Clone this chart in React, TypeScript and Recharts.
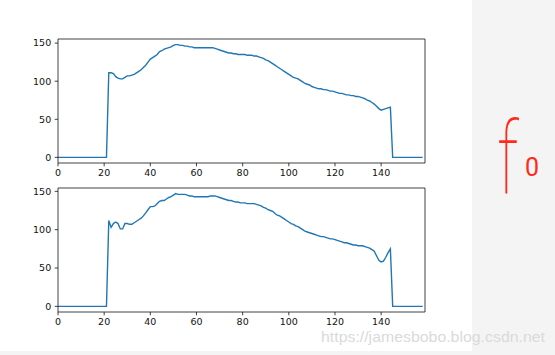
import { Line, LineChart, ReferenceLine, XAxis, YAxis } from "recharts";

// frame index 0..158
const frames = Array.from({ length: 159 }, (_, i) => i);

const pitchTop = [
  0, 0, 0, 0, 0, 0, 0, 0, 0, 0,
  0, 0, 0, 0, 0, 0, 0, 0, 0, 0,
  0, 0,
  111, 111, 110, 106, 104, 103, 103, 105, 107, 107,
  108, 109, 111, 113, 115, 118, 121, 125, 129, 131,
  133, 135, 139, 140, 142, 143, 144, 145, 147, 148,
  148, 147, 147, 146, 146, 145, 145, 144, 144, 144,
  144, 144, 144, 144, 144, 144, 143, 142, 141, 140,
  139, 138, 137, 137, 136, 136, 135, 135, 135, 135,
  134, 134, 134, 133, 133, 132, 131, 130, 128, 127,
  125, 123, 121, 119, 117, 115, 113, 111, 109, 107,
  105, 104, 103, 101, 99, 97, 96, 95, 93, 92,
  91, 90, 90, 89, 89, 88, 87, 87, 86, 85,
  84, 84, 83, 82, 82, 81, 81, 80, 80, 79,
  78, 77, 75, 74, 72, 70, 67, 64, 62, 63,
  64, 65, 66,
  0, 0, 0, 0, 0, 0, 0, 0, 0, 0,
  0, 0, 0, 0,
];

const pitchBottom = [
  0, 0, 0, 0, 0, 0, 0, 0, 0, 0,
  0, 0, 0, 0, 0, 0, 0, 0, 0, 0,
  0, 0,
  112, 103, 108, 110, 108, 101, 101, 108, 108, 107,
  107, 109, 111, 113, 115, 118, 122, 126, 130, 130,
  131, 134, 137, 138, 138, 140, 142, 143, 145, 147,
  146, 146, 146, 146, 145, 144, 144, 143, 143, 143,
  143, 143, 143, 143, 144, 144, 144, 143, 142, 141,
  140, 139, 138, 138, 137, 136, 136, 135, 135, 135,
  134, 134, 134, 134, 133, 132, 131, 129, 128, 126,
  125, 124, 121, 119, 118, 116, 114, 112, 110, 108,
  107, 105, 104, 102, 100, 98, 97, 96, 95, 94,
  93, 92, 91, 91, 90, 89, 88, 88, 87, 86,
  85, 84, 83, 83, 82, 81, 80, 80, 79, 79,
  79, 78, 77, 76, 74, 72, 66, 60, 58, 59,
  64, 70, 75,
  0, 0, 0, 0, 0, 0, 0, 0, 0, 0,
  0, 0, 0, 0,
];

const xTicks = [0, 20, 40, 60, 80, 100, 120, 140];
const yTicks = [0, 50, 100, 150];
const X_MAX = 159;

const tickStyle = { fill: "#111", fontSize: 9.5, fontFamily: "DejaVu Sans" };
const axisLine = { stroke: "#111", strokeWidth: 0.8 };

function PitchPlot({ values, top }: { values: number[]; top: number }) {
  const data = frames.map((x, i) => ({ x, y: values[i] }));
  const hi = Math.max(...values);
  const lo = Math.min(...values);
  const pad = (hi - lo) * 0.05;
  const yDomain = [lo - pad, hi + pad];

  return (
    <div style={{ position: "absolute", left: 0, top }}>
      <LineChart
        width={472}
        height={191}
        data={data}
        margin={{ top: 39, right: 47, bottom: 0, left: 0 }}
      >
        <XAxis
          dataKey="x"
          type="number"
          domain={[0, X_MAX]}
          ticks={xTicks}
          allowDataOverflow
          height={28}
          tick={tickStyle}
          tickSize={3.3}
          tickMargin={3}
          tickLine={{ stroke: "#111", strokeWidth: 0.8 }}
          axisLine={axisLine}
        />
        <YAxis
          type="number"
          domain={yDomain}
          ticks={yTicks}
          allowDataOverflow
          width={58}
          tick={tickStyle}
          tickSize={3.3}
          tickMargin={3.5}
          tickLine={{ stroke: "#111", strokeWidth: 0.8 }}
          axisLine={axisLine}
        />
        <ReferenceLine y={yDomain[1]} stroke="#111" strokeWidth={0.8} />
        <ReferenceLine x={X_MAX} stroke="#111" strokeWidth={0.8} />
        <Line
          type="linear"
          dataKey="y"
          stroke="#1f77b4"
          strokeWidth={1.4}
          dot={false}
          isAnimationActive={false}
        />
      </LineChart>
    </div>
  );
}

export default function App() {
  return (
    <div
      style={{
        position: "absolute",
        left: 0,
        top: 0,
        width: 555,
        height: 355,
        background: "#f4f4f4",
        overflow: "hidden",
      }}
    >
      <div
        style={{
          position: "absolute",
          left: 0,
          top: 0,
          width: 472,
          height: 351,
          background: "#fff",
        }}
      />
      <PitchPlot values={pitchTop} top={0} />
      <PitchPlot values={pitchBottom} top={149} />
      <svg
        width={555}
        height={355}
        style={{ position: "absolute", left: 0, top: 0, pointerEvents: "none" }}
      >
        {/* hand-written note */}
        <text
          transform="translate(497,193) scale(0.68,1)"
          fontSize={100}
          fontFamily="Roboto"
          fontWeight={100}
          fill="#ff2a1a"
        >
          f
        </text>
        <text
          x={525}
          y={176}
          fontSize={25}
          fontFamily="Roboto"
          fontWeight={400}
          fill="#ff2a1a"
        >
          0
        </text>
        <text
          x={321}
          y={342}
          fontSize={15.5}
          fontFamily="Liberation Sans"
          textLength={224}
          lengthAdjust="spacingAndGlyphs"
          fill="#dadada"
        >
          https://jamesbobo.blog.csdn.net
        </text>
      </svg>
    </div>
  );
}
